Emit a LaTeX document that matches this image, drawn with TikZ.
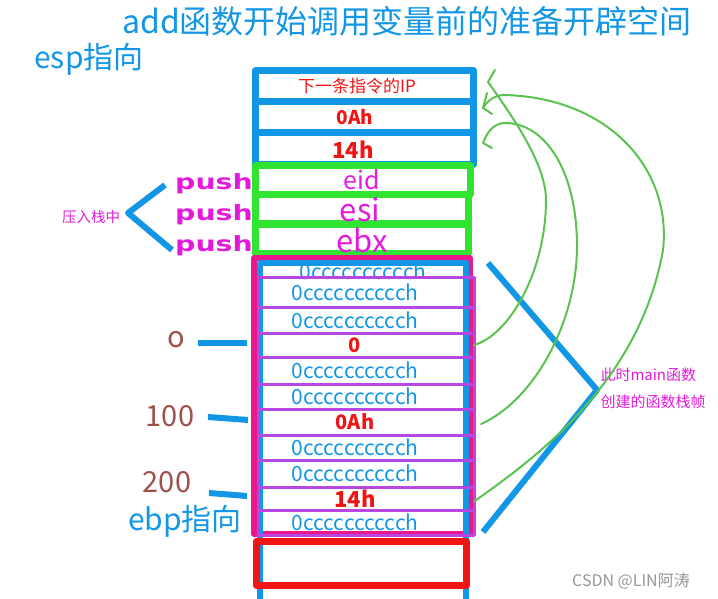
\documentclass[tikz,border=0pt]{standalone}
\usepackage{fontspec}
\setmainfont{Noto Sans CJK SC}
\newfontfamily\pushfont[FakeStretch=1.35]{DejaVu Sans}
\usetikzlibrary{arrows.meta}
\definecolor{skyblue}{RGB}{18,150,230}
\definecolor{boxgreen}{RGB}{50,228,50}
\definecolor{stackpink}{RGB}{233,24,140}
\definecolor{rowpurple}{RGB}{185,70,225}
\definecolor{txtred}{RGB}{240,20,20}
\definecolor{txtmag}{RGB}{228,25,220}
\definecolor{numbrown}{RGB}{160,80,75}
\definecolor{arcgreen}{RGB}{90,195,80}
\definecolor{markgray}{RGB}{150,150,150}
\tikzset{
  fs/.style={font=\fontsize{#1}{#1}\selectfont},
  fsb/.style={font=\bfseries\fontsize{#1}{#1}\selectfont},
  bluebox/.style={draw=skyblue,line width=7pt,inner sep=0pt,outer sep=0pt,minimum width=218pt},
  greenbox/.style={draw=boxgreen,line width=7pt,inner sep=0pt,outer sep=0pt},
  rowbox/.style={draw=rowpurple,line width=3pt,inner sep=0pt,outer sep=0pt,minimum width=216pt},
  cctxt/.style={fs=21,text=skyblue},
  redtxt/.style={fsb=20,text=txtred},
  redbig/.style={fsb=22,text=txtred},
  pointer/.style={skyblue,line width=6pt},
  arc/.style={arcgreen,line width=2pt,line cap=round},
}
\begin{document}
\begin{tikzpicture}[x=1pt,y=-1pt,line join=round]
\useasboundingbox (0,0) rectangle (718,599);
% headings
\node[fs=32,text=skyblue] (title) at (407,21) {add函数开始调用变量前的准备开辟空间};
\node[fs=30,text=skyblue] (esp) at (89,59) {esp指向};
% return address and parameters
\node[bluebox,minimum height=31pt] (ip) at (364.5,86) {};
\node[bluebox,minimum height=31pt] (oah) at (364.5,117) {};
\node[bluebox,minimum height=32pt] (fth) at (364.5,148.5) {};
\node[fs=17,text=txtred] (ipt) at (357,86) {下一条指令的IP};
\node[redtxt,fsb=19] (oaht) at (355,117) {0Ah};
\node[redbig] (ftht) at (353,150) {14h};
% pushed registers
\node[greenbox,minimum width=215pt,minimum height=28.5pt] (eid) at (362.5,180.25) {};
\node[greenbox,minimum width=213pt,minimum height=29pt] (esi) at (361.5,209) {};
\node[greenbox,minimum width=213pt,minimum height=29pt] (ebx) at (361.5,238.5) {};
\node[fs=25,text=txtmag] (eidt) at (362,180) {eid};
\node[fs=31,text=txtmag] (esit) at (360,210) {esi};
\node[fs=31,text=txtmag] (ebxt) at (362,240) {ebx};
\foreach \n/\y in {p1/184,p2/215,p3/246}
  \node[text=txtmag,font=\pushfont\bfseries\fontsize{21}{21}\selectfont] (\n) at (214,\y) {push};
\draw[pointer] (165,185) -- (128,213) -- (172,250);
\node[fs=14.5,text=txtmag] (ya) at (91,217) {压入栈中};
% main frame
\node[draw=stackpink,line width=6pt,inner sep=0pt,minimum width=216pt,minimum height=276pt] (frame) at (362,396) {};
\draw[skyblue,line width=6pt] (260,603) -- (260,263) -- (466,263) -- (466,603);
\node[cctxt] (r0) at (363,271) {0cccccccccch};
\foreach \i/\a/\b/\t/\s in {1/277/307/0cccccccccch/cctxt,2/307/333/0cccccccccch/cctxt,
    3/333/357/0/redtxt,4/357/384/0cccccccccch/cctxt,5/384/409/0cccccccccch/cctxt,
    6/409/435/0Ah/redtxt,7/435/460/0cccccccccch/cctxt,8/460/487/0cccccccccch/cctxt,
    9/487/510/14h/redbig,10/510/535/0cccccccccch/cctxt}{
  \node[rowbox,minimum height={\b-\a}] (r\i) at (366,{(\a+\b)/2}) {};
  \node[\s] (t\i) at (355,{(\a+\b)/2}) {\t};
}
\node[draw=txtred,line width=7pt,inner sep=0pt,minimum width=210pt,minimum height=44pt] (ret) at (361.5,563.5) {};
% offsets
\node[fs=29,text=numbrown] (n0) at (176,340) {o};
\node[fs=29,text=numbrown] (n100) at (170,416) {100};
\node[fs=29,text=numbrown] (n200) at (167,482) {200};
\node[fs=30,text=skyblue] (ebp) at (185,521) {ebp指向};
\draw[pointer] (198,343) -- (247,343);
\draw[pointer] (208,417) -- (248,420);
\draw[pointer] (209,493) -- (247,496);
% main stack frame
\draw[pointer] (488,263) -- (597,390) -- (483,532);
\node[fs=15,text=txtmag,anchor=west] (m1) at (597,375) {此时main函数};
\node[fs=15,text=txtmag,anchor=west] (m2) at (597,402) {创建的函数栈帧};
% green arcs
\coordinate (tipA) at (488,82);
\coordinate (tipB) at (483,143);
\coordinate (tipC) at (483,108);
\draw[arc] (r3.east) .. controls (510,335) and (546,270) .. (546,200)
  .. controls (546,165) and (515,120) .. (tipA) -- +(7,-12);
\draw[arc] ([xshift=7pt,yshift=-2pt]r6.east) .. controls (535,400) and (578,320) .. (577,243)
  .. controls (576,170) and (545,123) .. (505,123)
  .. controls (494,123) and (487,132) .. (tipB) -- +(9,5);
\draw[arc] ([yshift=-3pt]r9.east) .. controls (540,455) and (640,380) .. (663,250)
  .. controls (672,170) and (610,98) .. (505,95)
  .. controls (495,95) and (488,100) .. (tipC) -- +(9,6);
\draw[arc] (tipC) -- +(4,-15);
% watermark
\node[fs=16,text=markgray] (csdn) at (631,581) {CSDN @LIN阿涛};
\end{tikzpicture}
\end{document}
